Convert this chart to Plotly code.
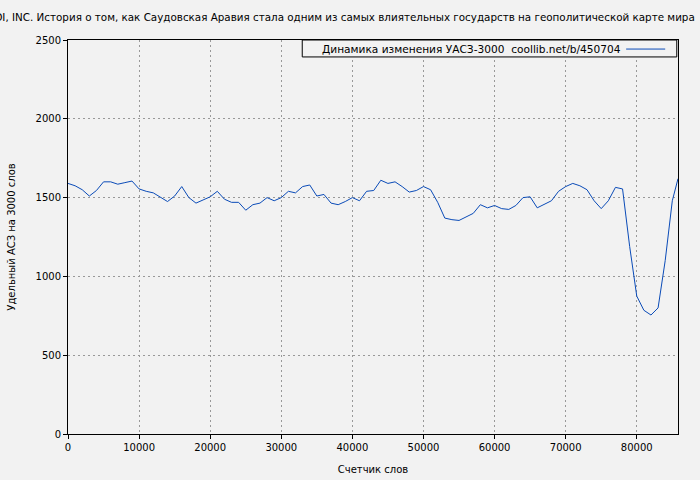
import plotly.graph_objects as go

words = [0, 1000, 2000, 3000, 4000, 5000, 6000, 7000, 8000, 9000,
         10000, 11000, 12000, 13000, 14000, 15000, 16000, 17000, 18000, 19000,
         20000, 21000, 22000, 23000, 24000, 25000, 26000, 27000, 28000, 29000,
         30000, 31000, 32000, 33000, 34000, 35000, 36000, 37000, 38000, 39000,
         40000, 41000, 42000, 43000, 44000, 45000, 46000, 47000, 48000, 49000,
         50000, 51000, 52000, 53000, 54000, 55000, 56000, 57000, 58000, 59000,
         60000, 61000, 62000, 63000, 64000, 65000, 66000, 67000, 68000, 69000,
         70000, 71000, 72000, 73000, 74000, 75000, 76000, 77000, 78000, 79000,
         80000, 81000, 82000, 83000, 84000, 85000, 85800]
uasz = [1590, 1575, 1550, 1510, 1545, 1600, 1600, 1585, 1595, 1605,
        1555, 1540, 1530, 1500, 1475, 1510, 1570, 1500, 1465, 1485,
        1505, 1540, 1490, 1470, 1470, 1420, 1455, 1465, 1500, 1480,
        1500, 1540, 1530, 1570, 1580, 1510, 1520, 1465, 1455, 1475,
        1500, 1480, 1540, 1545, 1610, 1590, 1600, 1570, 1535, 1545,
        1570, 1550, 1470, 1370, 1360, 1355, 1375, 1400, 1455, 1435,
        1450, 1430, 1425, 1450, 1500, 1505, 1435, 1460, 1480, 1540,
        1570, 1590, 1575, 1550, 1480, 1430, 1480, 1565, 1555, 1190,
        875, 785, 755, 800, 1100, 1480, 1620]

title = ("SAUDI, INC. История о том, как Саудовская Аравия стала одним из самых "
         "влиятельных государств на геополитической карте мира")
legend_text = "Динамика изменения УАСЗ-3000  coollib.net/b/450704"

bg = "#f2f2f2"
grid = dict(showgrid=True, gridcolor="#999999", griddash="2px,3px", gridwidth=1)
axis_common = dict(ticks="outside", ticklen=4, tickcolor="#000",
                   showline=True, linecolor="#000", linewidth=1, mirror=True,
                   zeroline=False, automargin=False, tickformat="d",
                   tickfont=dict(size=10))

fig = go.Figure()
fig.add_trace(go.Scatter(x=words, y=uasz, mode="lines",
                         line=dict(color="#0a4bb8", width=1),
                         showlegend=False))

fig.update_layout(
    width=700, height=480,
    paper_bgcolor=bg, plot_bgcolor=bg,
    margin=dict(l=68, r=22, t=40, b=46),
    font=dict(family="DejaVu Sans", size=10, color="#000000"),
    xaxis=dict(range=[0, 85800], tickvals=list(range(0, 85000, 10000)),
               title=dict(text="Счетчик слов", standoff=13, font=dict(size=10)),
               **axis_common, **grid),
    yaxis=dict(range=[0, 2500], tickvals=list(range(0, 2501, 500)),
               title=dict(text="Удельный АСЗ на 3000 слов", standoff=18, font=dict(size=10)),
               **axis_common, **grid),
)

# title, clipped at the left like the original
fig.add_annotation(text=title, xref="paper", yref="paper", x=1.031, y=1.0,
                   xanchor="right", yanchor="bottom", yshift=15,
                   showarrow=False, font=dict(size=10.35))

# legend box with the line sample on the right
fig.add_shape(type="rect", xref="paper", yref="paper",
              x0=0.384, x1=0.998, y0=0.957, y1=1.0,
              line=dict(color="#000", width=1), fillcolor=bg)
fig.add_annotation(text=legend_text, xref="paper", yref="paper", x=0.910, y=0.977,
                   xanchor="right", yanchor="middle", showarrow=False,
                   font=dict(size=10.6))
fig.add_shape(type="line", xref="paper", yref="paper",
              x0=0.915, x1=0.979, y0=0.977, y1=0.977,
              line=dict(color="#0a4bb8", width=1))

fig.write_html("out.html", config={"displayModeBar": False}, post_script=[
    "document.body.style.margin='0'; document.body.style.background='#f2f2f2';"
])
